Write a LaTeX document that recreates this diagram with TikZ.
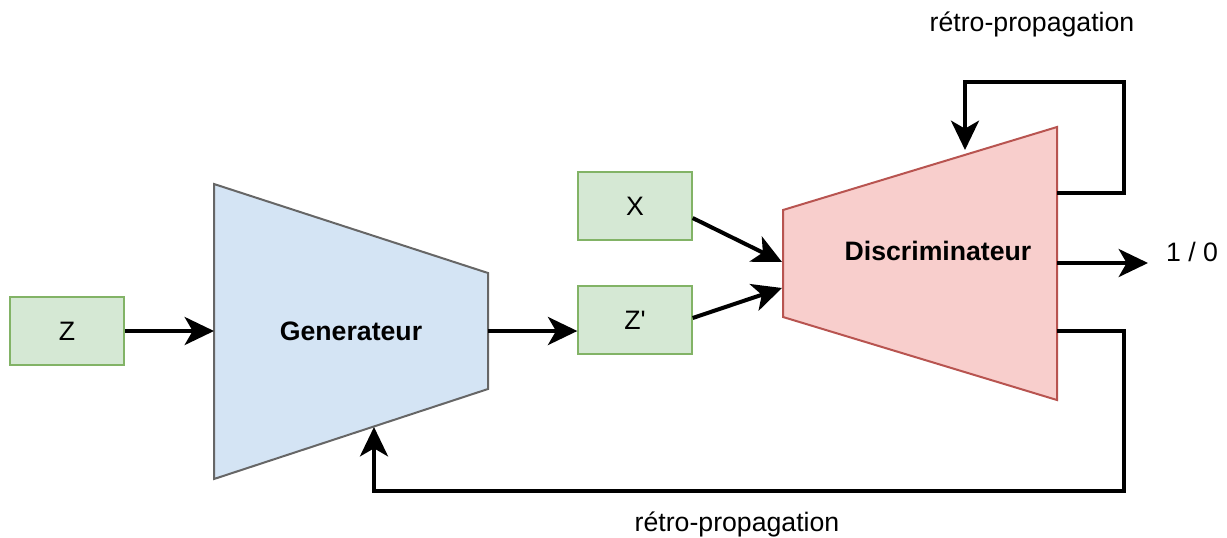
\documentclass[tikz,border=0pt]{standalone}
\usepackage{fontspec}
\setmainfont{Liberation Sans}
\usetikzlibrary{arrows.meta}
\definecolor{boxfill}{HTML}{D5E8D4}
\definecolor{boxline}{HTML}{82B366}
\definecolor{genfill}{HTML}{D4E4F4}
\definecolor{genline}{HTML}{666666}
\definecolor{discfill}{HTML}{F8CECC}
\definecolor{discline}{HTML}{B85450}
\tikzset{
  databox/.style={draw=boxline, fill=boxfill, line width=1.5pt, minimum width=85pt, minimum height=51pt, inner sep=0pt},
  lbl/.style={font=\fontsize{20}{24}\selectfont, inner sep=0pt},
  title/.style={font=\fontsize{20}{24}\selectfont\bfseries, inner sep=0pt},
  arr/.style={line width=3pt, -{Stealth[length=22pt, width=21pt, inset=6pt]}},
  loop/.style={arr, line join=miter}
}
\begin{document}
\begin{tikzpicture}[x=0.75pt, y=-0.75pt]
\useasboundingbox (0,0) rectangle (1227,537);

% generator and discriminator bodies
\draw[draw=genline, fill=genfill, line width=1.5pt, line join=miter]
  (214,184) -- (488,273) -- (488,389) -- (214,479) -- cycle;
\draw[draw=discline, fill=discfill, line width=1.5pt, line join=miter]
  (783,210) -- (1057,127) -- (1057,400) -- (783,317) -- cycle;
\node[title] (gen) at (351,331) {Generateur};
\node[title] (disc) at (938,251) {Discriminateur};

% attachment points on the bodies
\coordinate (genIn) at (214,331);
\coordinate (genOut) at (488,331);
\coordinate (genBack) at (374,427);
\coordinate (discIn1) at (782,262);
\coordinate (discIn2) at (782,288);
\coordinate (discTop) at (965,150);
\coordinate (discOutTop) at (1057,193);
\coordinate (discOut) at (1057,263);
\coordinate (discOutLow) at (1057,331);
\coordinate (resEnd) at (1148,263);

% data boxes
\node[databox, lbl] (z) at (67,331) {Z};
\node[databox, lbl] (x) at (635,206) {X};
\node[databox, lbl] (zp) at (635,320) {Z\textquotesingle};

% data flow
\draw[arr] (z.east) -- (genIn);
\draw[arr] (genOut) -- (genOut -| zp.west);
\draw[arr] ([yshift=-9pt]x.east) -- (discIn1);
\draw[arr] ([yshift=1.5pt]zp.east) -- (discIn2);
\draw[arr] (discOut) -- (resEnd);
\node[lbl] (res) at (1192,252) {1 / 0};

% back-propagation loops
\draw[loop] (discOutTop) -- (1124,193) -- (1124,82) -- (965,82) -- (discTop);
\draw[loop] (discOutLow) -- (1124,331) -- (1124,491) -- (374,491) -- (genBack);
\node[lbl] (bpTop) at (1032,24) {rétro-propagation};
\node[lbl] (bpLow) at (737,524) {rétro-propagation};
\end{tikzpicture}
\end{document}
